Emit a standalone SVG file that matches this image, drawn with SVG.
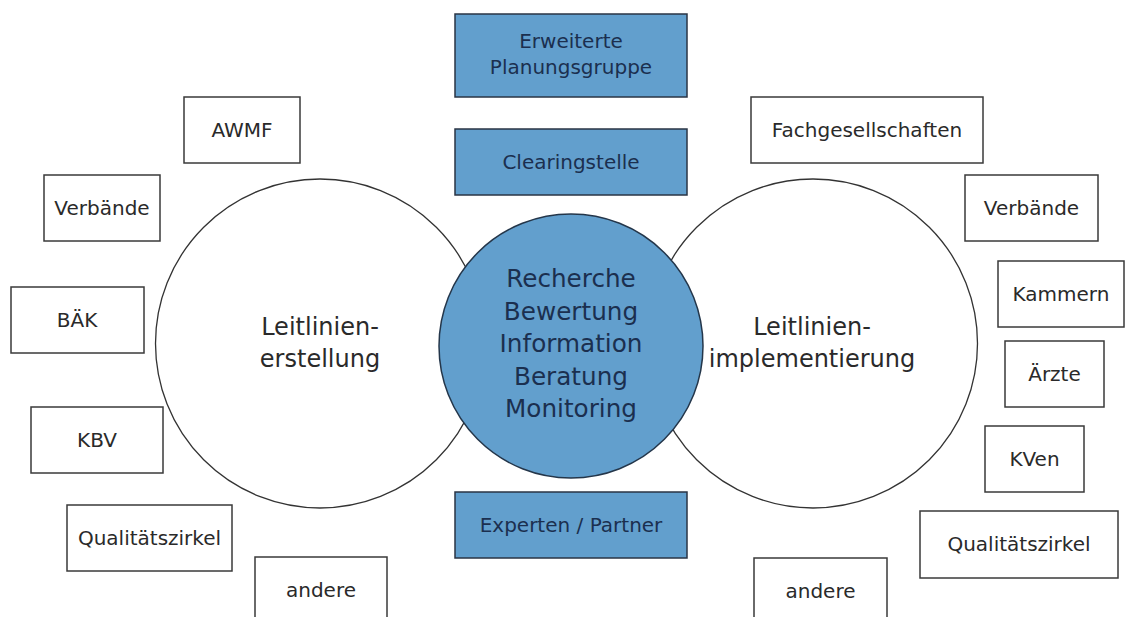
<svg xmlns="http://www.w3.org/2000/svg" width="1125" height="617" viewBox="0 0 1125 617">
<style>
.bg{fill:#ffffff}
.box{fill:#ffffff;stroke:#3a3a3a;stroke-width:1.5}
.bbox{fill:#629fcd;stroke:#2a3444;stroke-width:1.5}
.big{fill:#ffffff;stroke:#333333;stroke-width:1.3}
.ctr{fill:#629fcd;stroke:#24364a;stroke-width:1.5}
text{font-family:"DejaVu Sans",Verdana,sans-serif;text-anchor:middle}
.t{font-size:20px;fill:#2a2a2a}
.tb{font-size:20px;fill:#1b2f4f}
.tl{font-size:24px;fill:#2a2a2a}
.tc{font-size:24.7px;fill:#1b2f4f}
</style>
<rect class="bg" x="0" y="0" width="1125" height="617"/>
<g id="connectors"></g>
<g id="circle-erstellung">
<circle class="big" cx="320" cy="343.5" r="164.5"/>
<text class="tl" x="320" y="335">Leitlinien-</text>
<text class="tl" x="320" y="367">erstellung</text>
</g>
<g id="circle-implementierung">
<circle class="big" cx="813" cy="343.5" r="164.5"/>
<text class="tl" x="812" y="335">Leitlinien-</text>
<text class="tl" x="812" y="367">implementierung</text>
</g>
<g id="circle-center">
<circle class="ctr" cx="571" cy="346" r="132"/>
<text class="tc" x="571" y="287">Recherche</text>
<text class="tc" x="571" y="320">Bewertung</text>
<text class="tc" x="571" y="352">Information</text>
<text class="tc" x="571" y="385">Beratung</text>
<text class="tc" x="571" y="417">Monitoring</text>
</g>
<g id="planungsgruppe">
<rect class="bbox" x="455" y="14" width="232" height="83"/>
<text class="tb" x="571" y="48">Erweiterte</text>
<text class="tb" x="571" y="74">Planungsgruppe</text>
</g>
<g id="clearingstelle">
<rect class="bbox" x="455" y="129" width="232" height="66"/>
<text class="tb" x="571" y="169">Clearingstelle</text>
</g>
<g id="experten">
<rect class="bbox" x="455" y="492" width="232" height="66"/>
<text class="tb" x="571" y="532">Experten / Partner</text>
</g>
<g id="awmf">
<rect class="box" x="184" y="97" width="116" height="66"/>
<text class="t" x="242" y="137">AWMF</text>
</g>
<g id="verbaende-l">
<rect class="box" x="44" y="175" width="116" height="66"/>
<text class="t" x="102" y="215">Verbände</text>
</g>
<g id="baek">
<rect class="box" x="11" y="287" width="133" height="66"/>
<text class="t" x="77" y="327">BÄK</text>
</g>
<g id="kbv">
<rect class="box" x="31" y="407" width="132" height="66"/>
<text class="t" x="97" y="447">KBV</text>
</g>
<g id="qz-l">
<rect class="box" x="67" y="505" width="165" height="66"/>
<text class="t" x="149.5" y="545">Qualitätszirkel</text>
</g>
<g id="andere-l">
<rect class="box" x="255" y="557" width="132" height="70"/>
<text class="t" x="321" y="597">andere</text>
</g>
<g id="fachgesellschaften">
<rect class="box" x="751" y="97" width="232" height="66"/>
<text class="t" x="867" y="137">Fachgesellschaften</text>
</g>
<g id="verbaende-r">
<rect class="box" x="965" y="175" width="133" height="66"/>
<text class="t" x="1031.5" y="215">Verbände</text>
</g>
<g id="kammern">
<rect class="box" x="998" y="261" width="126" height="66"/>
<text class="t" x="1061" y="301">Kammern</text>
</g>
<g id="aerzte">
<rect class="box" x="1005" y="341" width="99" height="66"/>
<text class="t" x="1054.5" y="381">Ärzte</text>
</g>
<g id="kven">
<rect class="box" x="985" y="426" width="99" height="66"/>
<text class="t" x="1034.5" y="466">KVen</text>
</g>
<g id="qz-r">
<rect class="box" x="920" y="511" width="198" height="67"/>
<text class="t" x="1019" y="551">Qualitätszirkel</text>
</g>
<g id="andere-r">
<rect class="box" x="754" y="558" width="133" height="70"/>
<text class="t" x="820.5" y="598">andere</text>
</g>
</svg>
